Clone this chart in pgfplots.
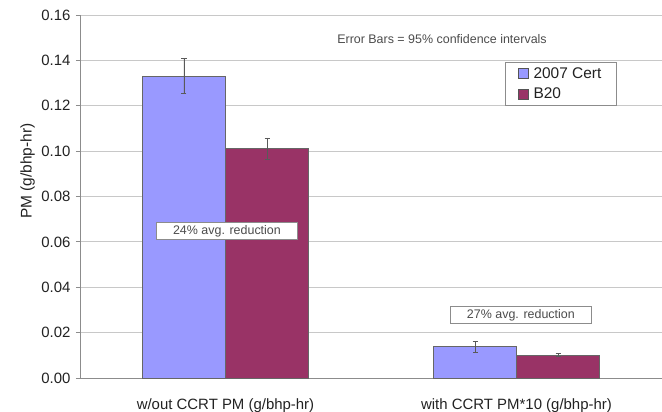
\documentclass[border=0pt]{standalone}
\usepackage{fontspec}
\setmainfont{Liberation Sans}
\usepackage{pgfplots}
\pgfplotsset{compat=1.18}

\definecolor{certblue}{HTML}{9999FF}
\definecolor{bplum}{HTML}{993366}
\definecolor{gridgray}{HTML}{C8C8C8}
\definecolor{axisgray}{HTML}{8C8C8C}
\definecolor{txt}{HTML}{222222}

\begin{document}
\begin{tikzpicture}
\begin{axis}[
    at={(0,0)}, anchor=south west,
    scale only axis, width=582bp, height=363bp,
    ybar=0pt, bar width=83bp,
    xmin=-0.5, xmax=1.5, ymin=0, ymax=0.16,
    xtick={0,1},
    xticklabels={w/out CCRT PM (g/bhp-hr), with CCRT PM*10 (g/bhp-hr)},
    x tick style={draw=none},
    xticklabel style={anchor=base, yshift=-27bp, font=\fontsize{15}{15}\selectfont, text=txt},
    ytick={0,0.02,...,0.16},
    y tick style={axisgray, line width=0.9pt},
    tick align=outside, major tick length=4bp,
    /pgf/number format/assume math mode=true,
    yticklabel={\pgfmathprintnumber[fixed, fixed zerofill, precision=2]{\tick}},
    yticklabel style={font=\fontsize{15}{15}\selectfont, text=txt, xshift=-2bp},
    ymajorgrids, grid style={gridgray, line width=0.9pt},
    axis x line*=bottom, axis y line*=left,
    axis line style={axisgray, line width=1pt},
    ylabel={PM (g/bhp-hr)},
    every axis y label/.style={at={(axis description cs:-0.09,0.57)}, rotate=90, anchor=center,
        font=\fontsize{15.5}{15.5}\selectfont, text=txt},
    legend style={at={(0.730,0.870)}, anchor=north west, draw=axisgray, fill=white,
        font=\fontsize{15.5}{15.5}\selectfont, text=txt, inner xsep=13bp, inner ysep=3bp,
        row sep=4bp, cells={anchor=west}, /tikz/every odd column/.style={column sep=3bp}},
    legend image code/.code={\draw[#1, draw=axisgray!60!black, line width=0.5pt] (0bp,-5bp) rectangle (10bp,5bp);},
    error bars/y dir=both, error bars/y explicit,
    error bars/error bar style={color=black!65, line width=0.8pt},
    error bars/error mark options={rotate=90, mark size=2.5bp, color=black!65, line width=0.8pt},
]
\addplot[fill=certblue, draw=black!60, line width=0.6pt] coordinates {
    (0,0.1331) +- (0,0.0077)
    (1,0.0138) +- (0,0.0024)
};
\addplot[fill=bplum, draw=black!60, line width=0.6pt] coordinates {
    (0,0.1011) +- (0,0.0047)
    (1,0.0101) +- (0,0.0007)
};
\legend{2007 Cert, B20}
\node[draw=axisgray, fill=white, minimum width=141bp, minimum height=17bp, inner sep=0pt,
      font=\fontsize{12.5}{12.5}\selectfont, text=black!70] at (axis cs:0.005,0.0648) {24\% avg. reduction};
\node[draw=axisgray, fill=white, minimum width=141bp, minimum height=17bp, inner sep=0pt,
      font=\fontsize{12.5}{12.5}\selectfont, text=black!70] at (axis cs:1.015,0.0278) {27\% avg. reduction};
\node[font=\fontsize{12.5}{12.5}\selectfont, text=black!70] at (axis cs:0.744,0.1494) {Error Bars = 95\% confidence intervals};
\end{axis}
\pgfresetboundingbox
\path (-80bp,-34bp) rectangle (582bp,378bp);
\end{tikzpicture}
\end{document}
